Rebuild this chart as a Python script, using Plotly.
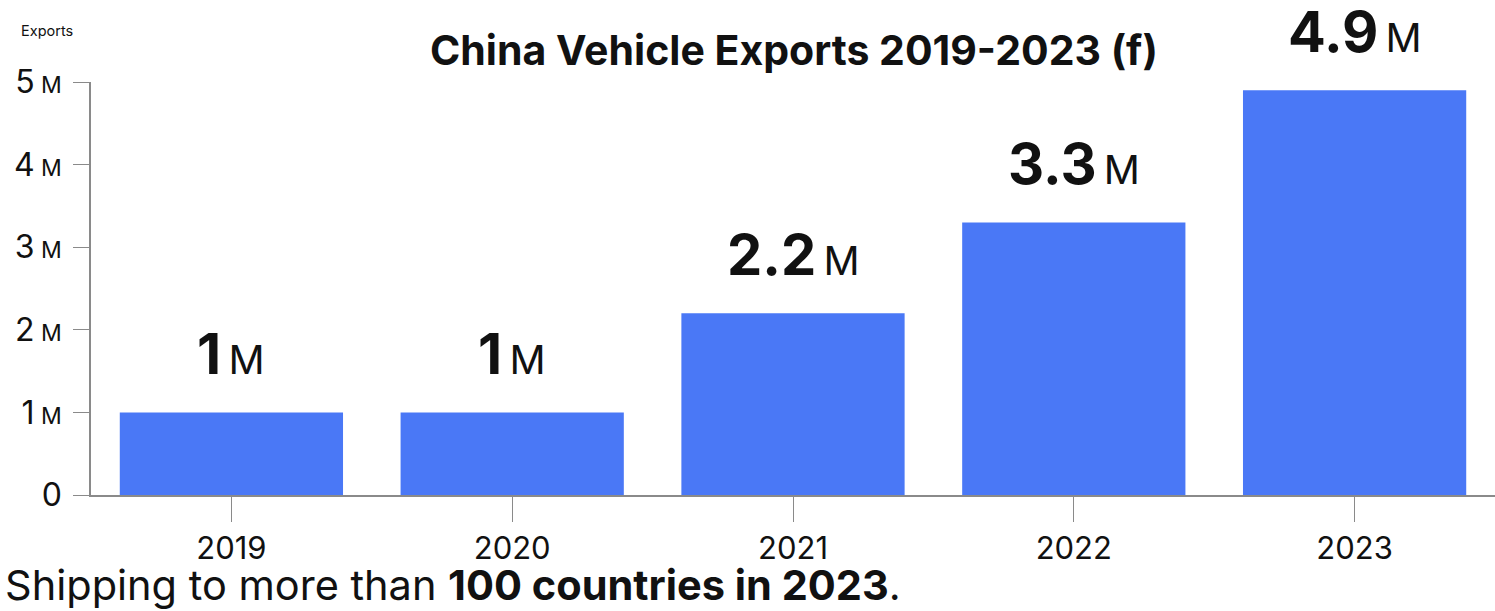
import plotly.graph_objects as go

years = ["2019", "2020", "2021", "2022", "2023"]
exports_m = [1.0, 1.0, 2.2, 3.3, 4.9]
value_labels = ["1", "1", "2.2", "3.3", "4.9"]
y_tick_vals = [0, 1, 2, 3, 4, 5]
y_tick_nums = ["0", "1", "2", "3", "4", "5"]

title_text = "China Vehicle Exports 2019-2023 (f)"
axis_label = "Exports"
footnote = "Shipping to more than <b>100 countries in 2023</b>."

BAR = "#4A78F6"
GRAY = "#8a8a8a"
FONT = "Inter, Roboto, sans-serif"

W, H = 1495, 611
L, R, T, B = 91, 0, 82, 116
pw, ph = W - L - R, H - T - B

fig = go.Figure()
fig.add_trace(go.Bar(
    x=years, y=exports_m,
    marker=dict(color=BAR, line=dict(width=0)),
    hoverinfo="skip",
))

y_tick_text = [n if v == 0 else f"{n}<span style='font-size:23px'> M</span>"
               for n, v in zip(y_tick_nums, y_tick_vals)]

annotations = []
for i, (v, lab) in enumerate(zip(exports_m, value_labels)):
    annotations.append(dict(
        x=i, y=v, xref="x", yref="y",
        text=f"<b>{lab}</b><span style='font-size:40px'>\u2009M</span>",
        showarrow=False, xanchor="center", yanchor="bottom", yshift=22,
        font=dict(family=FONT, size=56, color="#111"),
    ))


def paper_note(px, py, text, size, xanchor):
    return dict(
        x=(px - L) / pw, y=(H - B - py) / ph, xref="paper", yref="paper",
        text=text, showarrow=False, xanchor=xanchor, yanchor="middle",
        font=dict(family=FONT, size=size, color="#111"),
    )


annotations.append(paper_note(794, 50, f"<b>{title_text}</b>", 41, "center"))
annotations.append(paper_note(19, 30, axis_label, 14.5, "left"))
annotations.append(paper_note(3, 585, footnote, 41.5, "left"))

fig.update_layout(
    width=W, height=H,
    margin=dict(l=L, r=R, t=T, b=B, pad=0),
    paper_bgcolor="white", plot_bgcolor="white",
    bargap=0.205,
    showlegend=False,
    annotations=annotations,
    font=dict(family=FONT, color="#111"),
    xaxis=dict(
        type="category", range=[-0.5, 4.5],
        showline=True, linecolor=GRAY, linewidth=1.5,
        ticks="outside", ticklen=25, tickcolor=GRAY, tickwidth=1.2,
        tickfont=dict(family=FONT, size=31, color="#111"),
        showgrid=False, zeroline=False,
        ticklabelstandoff=0,
    ),
    yaxis=dict(
        range=[0, 5],
        tickmode="array", tickvals=y_tick_vals, ticktext=y_tick_text,
        showline=True, linecolor=GRAY, linewidth=1.5,
        ticks="outside", ticklen=16, tickcolor=GRAY, tickwidth=1.2,
        tickfont=dict(family=FONT, size=32, color="#111"),
        showgrid=False, zeroline=False,
        ticklabelstandoff=5,
    ),
)

fig.write_html("out.html", config={"displayModeBar": False},
               post_script="document.body.style.margin='0';")
